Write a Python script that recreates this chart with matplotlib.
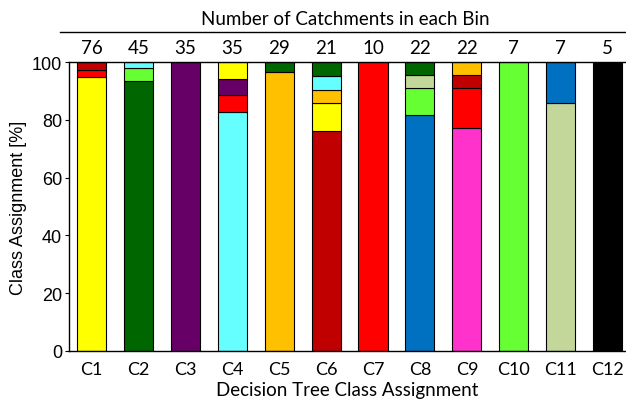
import matplotlib.pyplot as plt
from matplotlib.lines import Line2D

# bins (decision tree classes) and number of catchments per bin
bins = ["C1", "C2", "C3", "C4", "C5", "C6", "C7", "C8", "C9", "C10", "C11", "C12"]
n_catchments = [76, 45, 35, 35, 29, 21, 10, 22, 22, 7, 7, 5]

# colour of each class
class_colors = {
    "C1": "#FFFF00", "C2": "#006600", "C3": "#660066", "C4": "#66FFFF",
    "C5": "#FFC000", "C6": "#C00000", "C7": "#FF0000", "C8": "#0070C0",
    "C9": "#FF33CC", "C10": "#66FF33", "C11": "#C4D79B", "C12": "#000000",
}

# stacked segments per bin (bottom to top): assigned class and catchment count
seg_classes = [
    ["C1", "C7", "C6"],
    ["C2", "C10", "C4"],
    ["C3"],
    ["C4", "C7", "C3", "C1"],
    ["C5", "C2"],
    ["C6", "C1", "C5", "C4", "C2"],
    ["C7"],
    ["C8", "C10", "C11", "C2"],
    ["C9", "C7", "C6", "C5"],
    ["C10"],
    ["C11", "C8"],
    ["C12"],
]
seg_counts = [
    [72, 2, 2],
    [42, 2, 1],
    [35],
    [29, 2, 2, 2],
    [28, 1],
    [16, 2, 1, 1, 1],
    [10],
    [18, 2, 1, 1],
    [17, 3, 1, 1],
    [7],
    [6, 1],
    [5],
]

fig = plt.figure(figsize=(6.26, 4.1), dpi=100)
ax = fig.add_axes([0.110, 0.1415, 0.890, 0.7048])

x = list(range(1, len(bins) + 1))
for i, (classes, counts) in enumerate(zip(seg_classes, seg_counts)):
    total = n_catchments[i]
    bottom = 0
    for c, n in zip(classes, counts):
        h = 100.0 * n / total
        ax.bar(x[i], h, bottom=bottom, width=0.62, color=class_colors[c],
               edgecolor="black", linewidth=0.8)
        bottom += h

ax.set_xlim(0.52, 12.39)
ax.set_ylim(0, 100)
ax.set_yticks([0, 20, 40, 60, 80, 100])
ax.set_yticklabels(["0", "20", "40", "60", "80", "100"],
                   family="Liberation Sans", fontsize=13)
ax.set_xticks(x)
ax.set_xticklabels(bins, family="Lato", fontsize=13)
ax.tick_params(axis="x", length=0, pad=7)
ax.tick_params(axis="y", length=3, direction="out", pad=2)
ax.spines["right"].set_visible(False)
for s in ["left", "bottom", "top"]:
    ax.spines[s].set_linewidth(1.0)

ax.set_ylabel("Class Assignment [%]", family="Liberation Sans", fontsize=13,
              labelpad=3)
ax.set_xlabel("Decision Tree Class Assignment", family="Lato", fontsize=13.5,
              labelpad=3)

# catchment counts above each bar
for xi, n in zip(x, n_catchments):
    ax.text(xi, 102.0, str(n), ha="center", va="bottom", family="Lato",
            fontsize=13.5)

fig.add_artist(Line2D([0.096, 1.0], [0.9195, 0.9195], color="black",
                      linewidth=1.0, transform=fig.transFigure))
fig.text(0.551, 0.953, "Number of Catchments in each Bin", ha="center",
         va="center", family="Lato", fontsize=13.5)

fig.savefig("out.png", dpi=100)
